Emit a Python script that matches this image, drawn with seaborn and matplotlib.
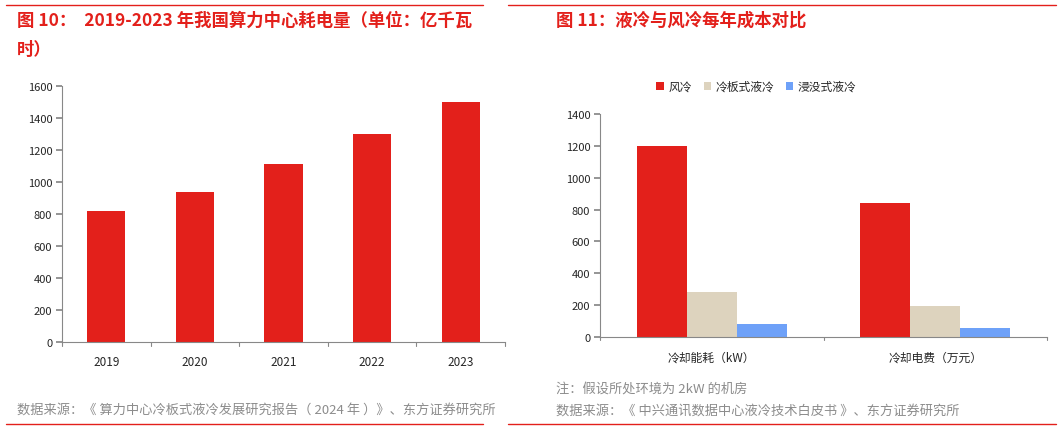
import numpy as np
import pandas as pd
import matplotlib.pyplot as plt
import seaborn as sns

years = ["2019", "2020", "2021", "2022", "2023"]
power = [820, 935, 1115, 1300, 1500]

groups = ["冷却能耗（kW）", "冷却电费（万元）"]
series = ["风冷", "冷板式液冷", "浸没式液冷"]
air = [1200, 840]
plate = [280, 195]
immersion = [80, 55]

RED = "#E3201B"
sns.set_theme(style="white")
plt.rcParams["font.family"] = ["Noto Sans CJK SC", "DejaVu Sans"]

fig = plt.figure(figsize=(10.61, 4.31), dpi=100)
W, H = 1061, 431


def fx(x):
    return x / W


def fy(y):
    return 1 - y / H


def style_axes(ax, ymax, step):
    ax.set_ylim(0, ymax)
    ax.set_yticks(np.arange(0, ymax + 1, step))
    for s in ["top", "right"]:
        ax.spines[s].set_visible(False)
    for s in ["left", "bottom"]:
        ax.spines[s].set_color("#888888")
        ax.spines[s].set_linewidth(0.8)
    ax.tick_params(axis="y", left=True, length=4, color="#888888", labelsize=8, pad=3)
    ax.tick_params(axis="x", bottom=False, labelsize=8.5)
    ax.set_xlabel("")
    ax.set_ylabel("")


# left chart
ax1 = fig.add_axes([fx(62), fy(343), fx(505 - 62), fy(87) - fy(343)])
df1 = pd.DataFrame({"year": years, "power": power})
sns.barplot(data=df1, x="year", y="power", color=RED, saturation=1, width=0.43,
            linewidth=0, ax=ax1)
style_axes(ax1, 1600, 200)
ax1.set_xlim(-0.5, len(years) - 0.5)
for b in np.arange(-0.5, len(years), 1.0):
    ax1.plot([b, b], [0, -25], color="#888888", lw=0.8, clip_on=False)

# right chart
ax2 = fig.add_axes([fx(600), fy(338), fx(1047 - 600), fy(115) - fy(338)])
df2 = pd.DataFrame({
    "group": groups * 3,
    "series": [series[0]] * 2 + [series[1]] * 2 + [series[2]] * 2,
    "value": air + plate + immersion,
})
sns.barplot(data=df2, x="group", y="value", hue="series", hue_order=series,
            palette=[RED, "#DDD3BE", "#6EA1F8"], saturation=1, width=0.67,
            linewidth=0, ax=ax2)
style_axes(ax2, 1400, 200)
ax2.set_xlim(-0.5, len(groups) - 0.5)
for b in np.arange(-0.5, len(groups), 1.0):
    ax2.plot([b, b], [0, -20], color="#888888", lw=0.8, clip_on=False)
ax2.legend(loc="upper center", bbox_to_anchor=(0.35, 1.2), ncol=3, frameon=False,
           fontsize=8.5, handlelength=0.6, handleheight=0.6, columnspacing=1.0,
           handletextpad=0.4)

# titles, rules and sources
for x0, x1 in [(6, 483), (508, 1056)]:
    fig.add_artist(plt.Line2D([fx(x0), fx(x1)], [fy(6), fy(6)], color=RED, lw=1))
    fig.add_artist(plt.Line2D([fx(x0), fx(x1)], [fy(425), fy(425)], color=RED, lw=1))
fig.text(fx(17), fy(21), "图 10：  2019-2023 年我国算力中心耗电量（单位：亿千瓦",
         color=RED, fontsize=12.5, fontweight="bold", va="center")
fig.text(fx(17), fy(50), "时）", color=RED, fontsize=12.5, fontweight="bold", va="center")
fig.text(fx(556), fy(21), "图 11：液冷与风冷每年成本对比",
         color=RED, fontsize=12.5, fontweight="bold", va="center")
fig.text(fx(17), fy(410), "数据来源：《 算力中心冷板式液冷发展研究报告（ 2024 年 ）》、东方证券研究所",
         color="#8C8C8C", fontsize=9.5, va="center")
fig.text(fx(556), fy(389), "注：假设所处环境为 2kW 的机房", color="#8C8C8C", fontsize=9.5, va="center")
fig.text(fx(556), fy(411), "数据来源：《 中兴通讯数据中心液冷技术白皮书 》、东方证券研究所",
         color="#8C8C8C", fontsize=9.5, va="center")

fig.savefig("out.png", dpi=100)
